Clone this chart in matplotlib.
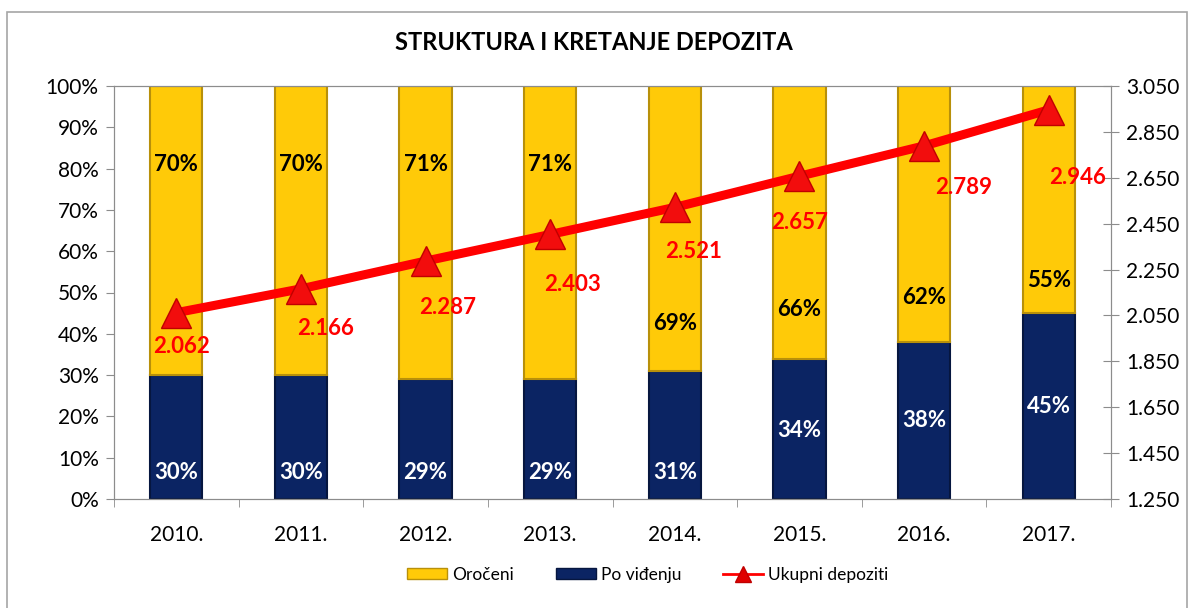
import matplotlib
matplotlib.use("Agg")
import matplotlib.pyplot as plt
from matplotlib.patches import Rectangle
from matplotlib.lines import Line2D
from matplotlib.ticker import FuncFormatter, FixedLocator

plt.rcParams['font.family'] = ['Lato', 'DejaVu Sans']

godine = ["2010.", "2011.", "2012.", "2013.", "2014.", "2015.", "2016.", "2017."]
po_vidjenju = [30, 30, 29, 29, 31, 34, 38, 45]
oroceni = [70, 70, 71, 71, 69, 66, 62, 55]
ukupni = [2062, 2166, 2287, 2403, 2521, 2657, 2789, 2946]

# rucno pomjerene pozicije labela (kao u Excelu)
y_lab_oroceni = [80.9, 80.9, 80.9, 80.9, 42.4, 45.8, 48.9, 53.0]
y_lab_vidjenju = [6.3, 6.3, 6.3, 6.3, 6.3, 16.7, 19.1, 22.3]
off_ukupni = [(5, -34), (25, -40), (22, -46), (22, -50), (19, -44), (0, -46), (40, -42), (29, -68)]

ZUTA, ZUTA_RUB = "#FFCA08", "#B8900A"
PLAVA, PLAVA_RUB = "#0B2463", "#06163F"
SIVA = "#8C8C8C"

fig = plt.figure(figsize=(11.97, 6.08), dpi=100)
fig.patches.append(Rectangle((7 / 1197, -0.05), 1180 / 1197, 1.05 - 12 / 608,
                             transform=fig.transFigure, fill=False,
                             edgecolor="#A6A6A6", linewidth=1.2))

ax = fig.add_axes([114 / 1197, 109 / 608, 997 / 1197, 413 / 608])
x = range(len(godine))
w = 0.42
ax.bar(x, po_vidjenju, width=w, color=PLAVA, edgecolor=PLAVA_RUB, linewidth=1.5, zorder=2)
ax.bar(x, oroceni, width=w, bottom=po_vidjenju, color=ZUTA, edgecolor=ZUTA_RUB,
       linewidth=1.5, zorder=2)

for i in x:
    ax.text(i, y_lab_oroceni[i], f"{oroceni[i]}%", ha="center", va="center",
            fontsize=16, fontweight="bold", color="black", zorder=5)
    ax.text(i, y_lab_vidjenju[i], f"{po_vidjenju[i]}%", ha="center", va="center",
            fontsize=16, fontweight="bold", color="white", zorder=5)

ax.set_xlim(-0.5, len(godine) - 0.5)
ax.set_ylim(0, 100)
ax.set_yticks(range(0, 101, 10))
ax.yaxis.set_major_formatter(FuncFormatter(lambda v, p: f"{v:.0f}%"))
ax.set_xticks(list(x))
ax.set_xticklabels(godine)
ax.xaxis.set_minor_locator(FixedLocator([i + 0.5 for i in range(-1, len(godine))]))
ax.tick_params(axis="x", which="major", length=0, pad=19, labelsize=15)
ax.tick_params(axis="x", which="minor", length=6, color=SIVA)
ax.tick_params(axis="y", length=6, color=SIVA, labelsize=15, pad=5)
for s in ax.spines.values():
    s.set_color(SIVA)

ax2 = ax.twinx()
ax2.plot(list(x), ukupni, color="#FF0000", linewidth=6.5, marker="^", markersize=21,
         markerfacecolor="#F20D0D", markeredgecolor="#C00000", markeredgewidth=1, zorder=4)
for i in x:
    ax2.annotate(f"{ukupni[i]:,}".replace(",", "."), (i, ukupni[i]),
                 xytext=off_ukupni[i], textcoords="offset pixels", ha="center", va="center",
                 fontsize=16, fontweight="bold", color="#FF0000", zorder=6)
ax2.set_ylim(1250, 3050)
ax2.set_yticks(range(1250, 3051, 200))
ax2.yaxis.set_major_formatter(FuncFormatter(lambda v, p: f"{v:,.0f}".replace(",", ".")))
ax2.tick_params(axis="y", direction="inout", length=12, color=SIVA, labelsize=15, pad=5)
for s in ax2.spines.values():
    s.set_color(SIVA)

fig.text(594 / 1197, 1 - 42 / 608, "STRUKTURA I KRETANJE DEPOZITA", ha="center", va="center",
         fontsize=17, fontweight="bold")

handles = [Rectangle((0, 0), 1, 1, facecolor=ZUTA, edgecolor=ZUTA_RUB),
           Rectangle((0, 0), 1, 1, facecolor=PLAVA, edgecolor=PLAVA_RUB),
           Line2D([], [], color="#FF0000", linewidth=2, marker="^", markersize=12,
                  markerfacecolor="#E00000", markeredgecolor="#C00000")]
fig.legend(handles, ["Oročeni", "Po viđenju", "Ukupni depoziti"], loc="center",
           bbox_to_anchor=(648 / 1197, 1 - 575 / 608), ncol=3, frameon=False,
           fontsize=12.5, handlelength=2.3, handleheight=0.6, columnspacing=2.4,
           handletextpad=0.3)

fig.savefig("out.png", dpi=100)
